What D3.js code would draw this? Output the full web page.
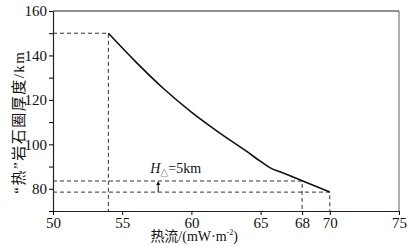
<!DOCTYPE html>
<html>
<head>
<meta charset="utf-8">
<script src="https://cdn.jsdelivr.net/npm/d3@7"></script>
<style>
  body { margin: 0; background: #fff; }
  text { font-family: "Liberation Serif", "Noto Sans CJK SC", serif; }
</style>
</head>
<body>
<div id="chart"></div>
<script>
// heat flow (mW/m2) vs thermal lithosphere thickness (km)
const heatFlow = [54, 56, 58, 60, 62, 64, 65, 65.7, 66.5, 68, 70];
const thickness = [150, 137, 125, 114.5, 105.3, 96.8, 92.3, 89.4, 87.4, 83.6, 78.5];

const xTicks = [50, 55, 60, 65, 68, 70, 75];
const yTicks = [70, 80, 90, 100, 110, 120, 130, 140, 150, 160];
const yLabels = [80, 100, 120, 140, 160];

// reference guide lines (dashed)
const guides = [
    {x: 54, y: 150},
    {x: 68, y: 83.5},
    {x: 70, y: 78.5}
];
const arrowX = 57.6;

const width = 412, height = 247;
const margin = {top: 11, right: 13, bottom: 36, left: 53};

const svg = d3.select("#chart").append("svg")
    .attr("width", width)
    .attr("height", height);

const x = d3.scaleLinear().domain([50, 75]).range([margin.left, width - margin.right]);
const y = d3.scaleLinear().domain([70, 160]).range([height - margin.bottom, margin.top]);

// frame (top & right)
svg.append("line")
    .attr("x1", x(50)).attr("x2", x(75))
    .attr("y1", y(160)).attr("y2", y(160))
    .attr("stroke", "#222").attr("stroke-width", 1.2);
svg.append("line")
    .attr("x1", x(75)).attr("x2", x(75))
    .attr("y1", y(160)).attr("y2", y(70))
    .attr("stroke", "#777").attr("stroke-width", 1.2);

// x axis
const xAxis = svg.append("g")
    .attr("transform", `translate(0,${y(70)})`)
    .call(d3.axisBottom(x).tickValues(xTicks).tickSize(4).tickPadding(2).tickSizeOuter(0));
xAxis.select(".domain").attr("stroke", "#222").attr("stroke-width", 1.2);
xAxis.selectAll("text").attr("font-size", 15).attr("fill", "#111");

// y axis
const yAxis = svg.append("g")
    .attr("transform", `translate(${x(50)},0)`)
    .call(d3.axisLeft(y).tickValues(yTicks).tickSize(4).tickPadding(2).tickSizeOuter(0)
        .tickFormat(d => yLabels.includes(d) ? d : ""));
yAxis.select(".domain").attr("stroke", "#222").attr("stroke-width", 1.2);
yAxis.selectAll("text").attr("font-size", 15).attr("fill", "#111");

// dashed guide lines
guides.forEach(g => {
    svg.append("path")
        .attr("d", `M${x(50)},${y(g.y)}H${x(g.x)}V${y(70)}`)
        .attr("fill", "none")
        .attr("stroke", "#333")
        .attr("stroke-width", 1)
        .attr("stroke-dasharray", "4,3");
});

// curve
const line = d3.line()
    .x(d => x(d))
    .y((d, i) => y(thickness[i]))
    .curve(d3.curveMonotoneX);

svg.append("path")
    .datum(heatFlow)
    .attr("d", line)
    .attr("fill", "none")
    .attr("stroke", "#111")
    .attr("stroke-width", 1.6);

// arrow for H delta
svg.append("line")
    .attr("x1", x(arrowX)).attr("x2", x(arrowX))
    .attr("y1", y(78.5)).attr("y2", y(83.5) + 2)
    .attr("stroke", "#111").attr("stroke-width", 1);
svg.append("path")
    .attr("d", `M${x(arrowX)},${y(83.5)}l-2,4h4z`)
    .attr("fill", "#111");

const lbl = svg.append("text")
    .attr("x", x(arrowX) - 8)
    .attr("y", y(83.5) - 8)
    .attr("font-size", 14)
    .attr("fill", "#111");
lbl.append("tspan").attr("font-style", "italic").text("H");
lbl.append("tspan").attr("font-size", 8).attr("dy", 3).text("△");
lbl.append("tspan").attr("dy", -3).text("=5km");

// axis titles
svg.append("text")
    .attr("x", x(60.2))
    .attr("y", 241)
    .attr("text-anchor", "middle")
    .attr("font-size", 14)
    .attr("fill", "#111")
    .html('热流/(mW·m<tspan font-size="8" dy="-6">-2</tspan><tspan dy="6">)</tspan>');

svg.append("text")
    .attr("transform", `translate(24,${y(110)}) rotate(-90)`)
    .attr("text-anchor", "middle")
    .attr("font-size", 15)
    .attr("letter-spacing", 1.5)
    .attr("fill", "#111")
    .text("“热”岩石圈厚度/km");
</script>
</body>
</html>
